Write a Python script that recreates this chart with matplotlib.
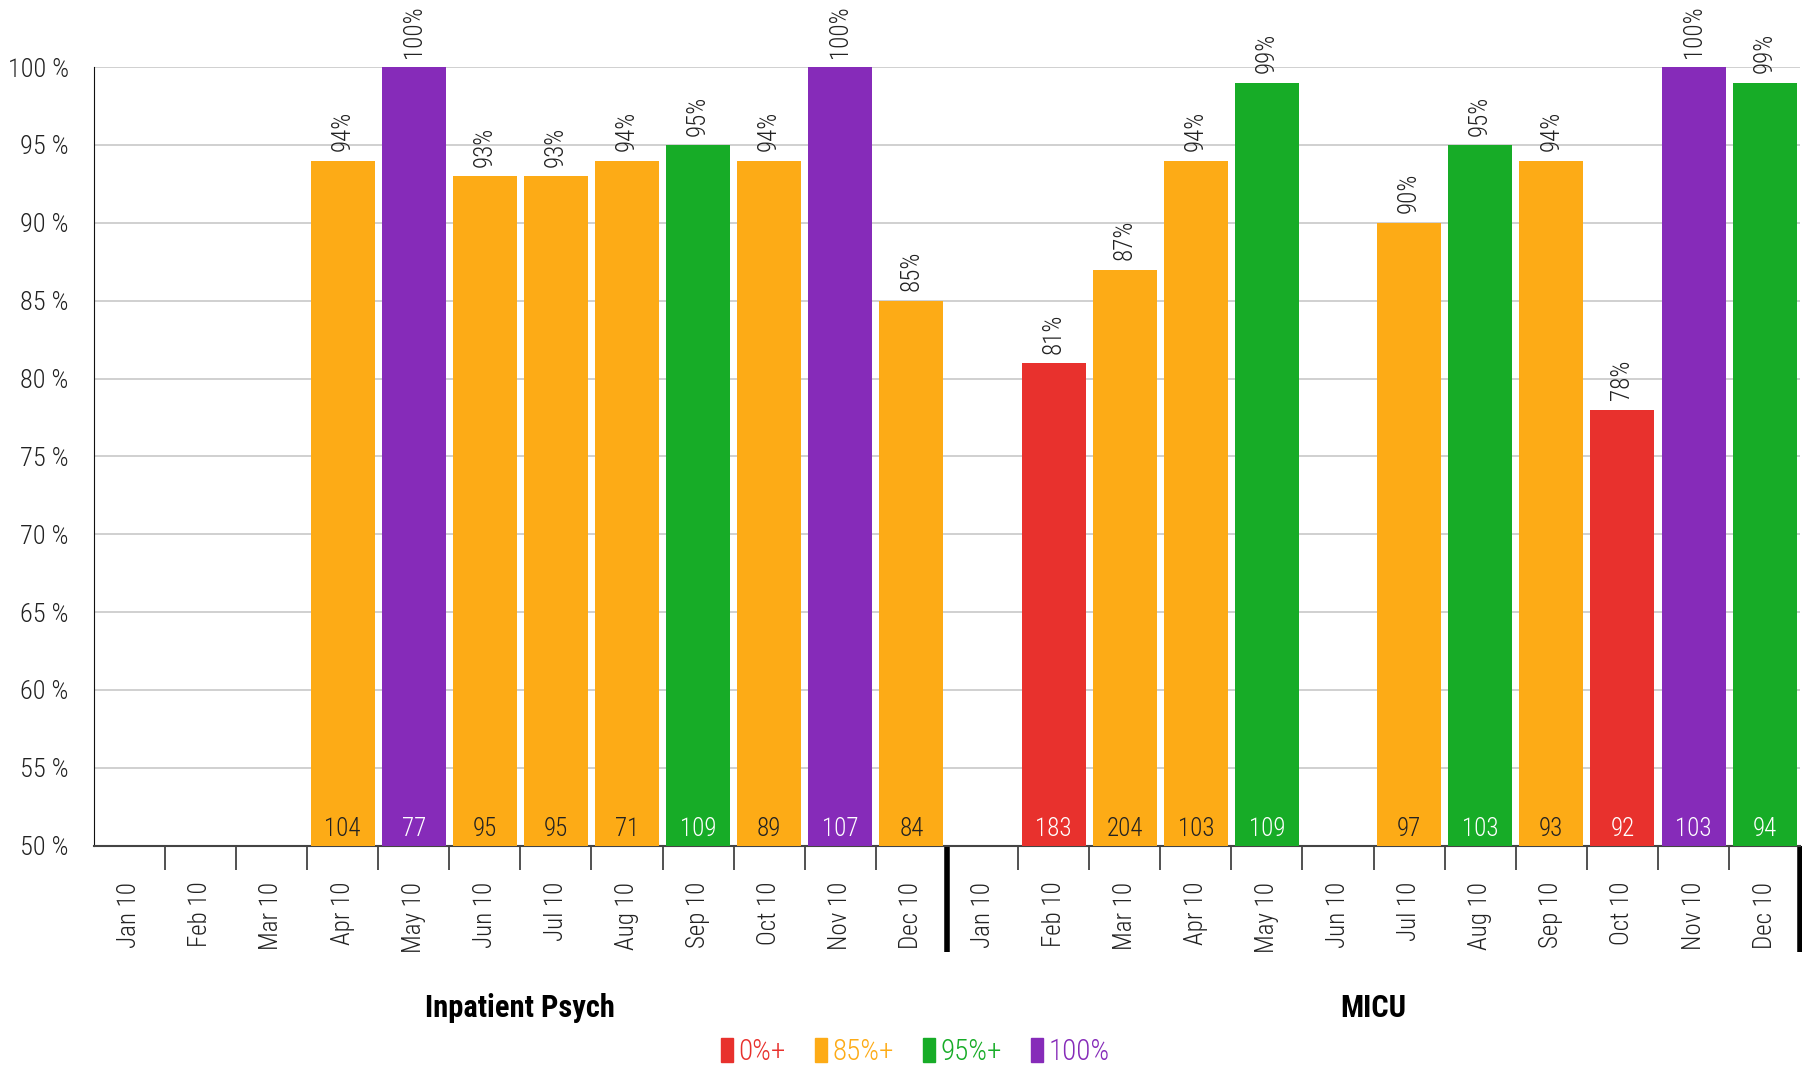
import numpy as np
import matplotlib
matplotlib.use("Agg")
import matplotlib.pyplot as plt
from matplotlib import font_manager
from matplotlib.patches import Patch

# pick a narrow font if one is installed
fonts = font_manager.fontManager.ttflist
names = set(f.name for f in fonts)
FONT = None
for cand in ["Liberation Sans Narrow", "Roboto Condensed", "Open Sans Condensed",
             "Noto Sans Condensed", "DejaVu Sans Condensed", "Arial Narrow"]:
    if cand in names:
        FONT = cand
        break
STRETCH = "normal"
if FONT is None:
    for f in fonts:
        if f.name in ["Roboto", "Noto Sans", "Open Sans", "DejaVu Sans"] and f.stretch in ["condensed", "semi-condensed", 75, 87.5]:
            FONT = f.name
            STRETCH = "condensed"
            break
NARROW = FONT is not None
if FONT is None:
    FONT = "Liberation Sans"
plt.rcParams['font.family'] = [FONT, 'DejaVu Sans']
plt.rcParams['font.stretch'] = STRETCH
plt.rcParams['font.weight'] = 'light'

months = ["Jan 10", "Feb 10", "Mar 10", "Apr 10", "May 10", "Jun 10",
          "Jul 10", "Aug 10", "Sep 10", "Oct 10", "Nov 10", "Dec 10"]
groups = ["Inpatient Psych", "MICU"]

psych_pct = [None, None, None, 94, 100, 93, 93, 94, 95, 94, 100, 85]
psych_n = [None, None, None, 104, 77, 95, 95, 71, 109, 89, 107, 84]
micu_pct = [None, 81, 87, 94, 99, None, 90, 95, 94, 78, 100, 99]
micu_n = [None, 183, 204, 103, 109, None, 97, 103, 93, 92, 103, 94]

legend_labels = ["0%+", "85%+", "95%+", "100%"]
legend_colors = ["#e8312d", "#fdab16", "#17ac27", "#862bb9"]

def pick_color(v):
    if v >= 100:
        return legend_colors[3]
    if v >= 95:
        return legend_colors[2]
    if v >= 85:
        return legend_colors[1]
    return legend_colors[0]

pct = psych_pct + micu_pct
cnt = psych_n + micu_n
labels = months + months

fs = 18 if NARROW else 16

fig = plt.figure(figsize=(18.02, 10.65), dpi=100)
ax = fig.add_axes([0.052, 0.206, 0.947, 0.731])

for i in range(len(pct)):
    v = pct[i]
    if v is None:
        continue
    c = pick_color(v)
    ax.bar(i, v, width=0.9, color=c, zorder=3)
    ax.text(i, v + 0.6, f"{v}%", rotation=90, ha="center", va="bottom",
            fontsize=fs, color="#222222", zorder=4)
    tc = "#222222" if c == legend_colors[1] else "white"
    ax.text(i, 50.3, str(cnt[i]), ha="center", va="bottom", fontsize=fs,
            color=tc, zorder=4)

ax.set_xlim(-0.5, len(pct) - 0.5)
ax.set_ylim(50, 100)
ax.set_yticks(range(50, 101, 5))
ax.set_yticklabels([f"{t} %" for t in range(50, 101, 5)], fontsize=fs + 1, color="#222222")
ax.yaxis.grid(True, color="#c8c8c8", linewidth=1.2, zorder=0)
ax.tick_params(axis="y", length=0, pad=18)

ax.set_xticks(range(len(pct)))
ax.set_xticklabels(labels, rotation=90, fontsize=fs, color="#222222")
ax.tick_params(axis="x", which="major", length=0, pad=26)
ax.set_xticks(np.arange(0.5, len(pct) - 1, 1), minor=True)
ax.tick_params(axis="x", which="minor", length=17, width=1.2, color="#333333")

for s in ["top", "right"]:
    ax.spines[s].set_visible(False)
ax.spines["left"].set_color("#111111")
ax.spines["bottom"].set_color("#444444")
ax.spines["bottom"].set_linewidth(1.5)

# thick group separators
trans = ax.get_xaxis_transform()
for xs in [11.5, 23.5]:
    ax.plot([xs, xs], [0, -0.137], transform=trans, color="black",
            linewidth=4, clip_on=False, solid_capstyle="butt")

for g in range(len(groups)):
    ax.text(g * 12 + 5.5, -0.208, groups[g], transform=trans, ha="center",
            va="center", fontsize=fs + 4, fontweight="bold", color="black")

handles = [Patch(color=c) for c in legend_colors]
fig.legend(handles, legend_labels, loc="center", bbox_to_anchor=(0.508, 0.012),
           ncol=4, frameon=False, fontsize=fs + 3, labelcolor=legend_colors,
           handlelength=0.4, handleheight=0.9, handletextpad=0.2,
           columnspacing=1.0)

fig.savefig("out.png", dpi=100)
